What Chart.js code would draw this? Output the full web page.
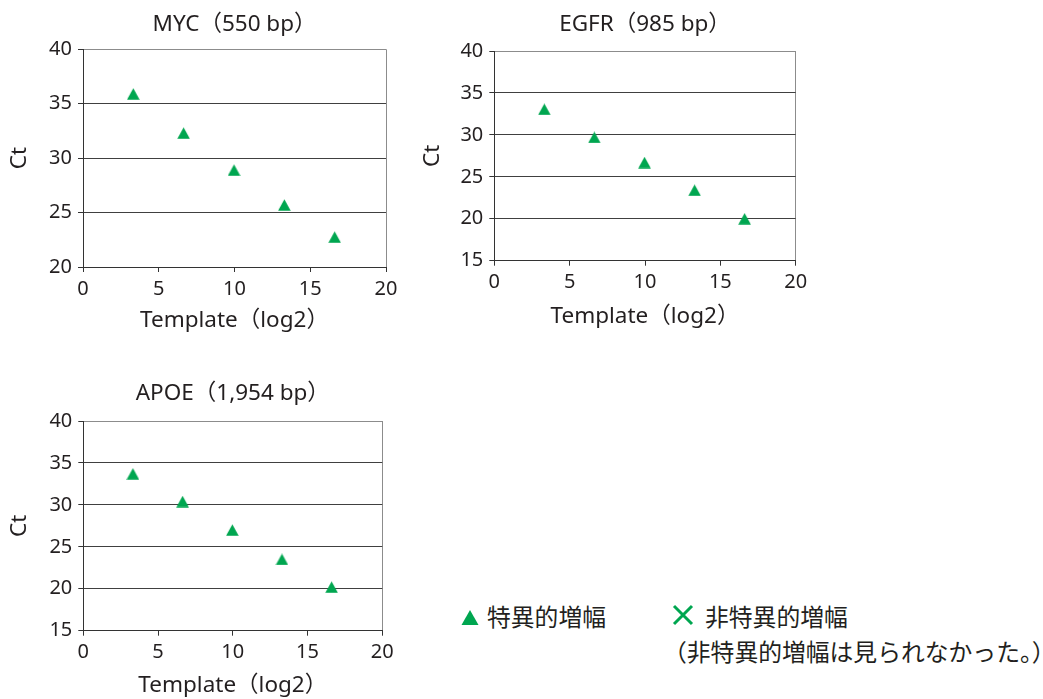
<!DOCTYPE html>
<html>
<head>
<meta charset="utf-8">
<script src="https://cdn.jsdelivr.net/npm/chart.js@4"></script>
<style>
  html, body { margin: 0; padding: 0; background: #ffffff; }
  body { width: 1043px; height: 699px; position: relative; overflow: hidden; }
  canvas { position: absolute; }
  .lg { position: absolute; font-family: 'Noto Sans CJK JP', 'Noto Sans', sans-serif; font-size: 23.8px; line-height: 24px; color: #231f20; white-space: nowrap; }
  svg { position: absolute; }
</style>
</head>
<body>
<canvas id="c1" width="410" height="345" style="left:0px;top:0px;"></canvas>
<canvas id="c2" width="420" height="345" style="left:410px;top:0px;"></canvas>
<canvas id="c3" width="410" height="334" style="left:0px;top:365px;"></canvas>

<svg width="18" height="16" style="left:461px;top:610px;"><polygon points="9,0 0.5,15 17.5,15" fill="#00a650"/></svg>
<div class="lg" style="left:487px;top:604px;">特異的増幅</div>
<svg width="22" height="22" style="left:672px;top:604px;"><path d="M2,2 L20,20 M20,2 L2,20" stroke="#00a650" stroke-width="3" fill="none"/></svg>
<div class="lg" style="left:705px;top:604px;">非特異的増幅</div>
<div class="lg" style="left:663px;top:639px;">（非特異的増幅は見られなかった。）</div>

<script>
// ---- data ----
const templateLog2 = [3.32, 6.64, 9.97, 13.29, 16.61];
const ctMYC  = [35.9, 32.3, 28.9, 25.7, 22.75];
const ctEGFR = [33.05, 29.7, 26.7, 23.4, 20.0];
const ctAPOE = [33.7, 30.4, 27.0, 23.5, 20.2];
const titleMYC  = 'MYC（550 bp）';
const titleEGFR = 'EGFR（985 bp）';
const titleAPOE = 'APOE（1,954 bp）';
const xTickValues = [0, 5, 10, 15, 20];
const yTicksMYC = [20, 25, 30, 35, 40];
const yTicksOther = [15, 20, 25, 30, 35, 40];
const xAxisLabel = 'Template（log2）';
const yAxisLabel = 'Ct';
const seriesName = '特異的増幅';

// ---- marker image (triangle centred in its box) ----
function triangleImage() {
  const c = document.createElement('canvas');
  c.width = 13; c.height = 12;
  const g = c.getContext('2d');
  g.fillStyle = '#00a650';
  g.beginPath();
  g.moveTo(6.5, 0.2);
  g.lineTo(0.2, 11.8);
  g.lineTo(12.8, 11.8);
  g.closePath();
  g.fill();
  return c;
}
const tri = triangleImage();

const FONT = "'Noto Sans', 'Noto Sans CJK JP', sans-serif";
const TEXT = '#231f20';

function makeChart(id, title, ys, yTicks, L) {
  const yMin = yTicks[0], yMax = yTicks[yTicks.length - 1];
  const xMax = xTickValues[xTickValues.length - 1];
  return new Chart(document.getElementById(id), {
    type: 'scatter',
    data: {
      datasets: [{
        label: seriesName,
        data: templateLog2.map((x, i) => ({ x: x, y: ys[i] })),
        pointStyle: tri,
        pointRadius: 6,
        showLine: false
      }]
    },
    options: {
      responsive: false,
      animation: false,
      events: [],
      layout: { padding: { left: 0, top: 0, right: L.padRight, bottom: 0 } },
      plugins: {
        legend: { display: false },
        tooltip: { enabled: false },
        title: {
          display: true,
          text: title,
          fullSize: false,
          color: TEXT,
          font: { family: FONT, size: 22.5, weight: 'normal', lineHeight: 1.2 },
          padding: { top: L.titleTop, bottom: L.titleBottom }
        }
      },
      scales: {
        x: {
          type: 'linear',
          min: 0, max: xMax,
          afterBuildTicks: s => { s.ticks = xTickValues.map(v => ({ value: v })); },
          afterFit: s => { s.height = L.xHeight; },
          border: { display: true, color: '#333333', width: 1 },
          grid: {
            drawOnChartArea: true,
            drawTicks: true,
            tickLength: 5,
            tickColor: '#333333',
            color: c => (c.tick && c.tick.value === xMax) ? '#8c8c8c' : 'rgba(0,0,0,0)'
          },
          ticks: { color: TEXT, padding: 5, font: { family: FONT, size: 20 } },
          title: {
            display: true, text: xAxisLabel, color: TEXT,
            font: { family: FONT, size: 22.5, lineHeight: 1.2 },
            padding: { top: 0, bottom: L.xTitleBottom }
          }
        },
        y: {
          type: 'linear',
          min: yMin, max: yMax,
          afterBuildTicks: s => { s.ticks = yTicks.map(v => ({ value: v })); },
          afterFit: s => { s.width = L.yWidth; },
          border: { display: true, color: '#333333', width: 1 },
          grid: {
            drawTicks: true,
            tickLength: 5,
            tickColor: '#333333',
            color: c => (c.tick && c.tick.value === yMax) ? '#8c8c8c' : '#404040'
          },
          ticks: { color: TEXT, padding: 6, font: { family: FONT, size: 20 } },
          title: {
            display: true, text: yAxisLabel, color: TEXT,
            font: { family: FONT, size: 22.5, lineHeight: 1.2 },
            padding: { top: L.yTitlePad, bottom: 0 }
          }
        }
      }
    }
  });
}

makeChart('c1', titleMYC, ctMYC, yTicksMYC,
  { padRight: 24, titleTop: 11.2, titleBottom: 11.1, xHeight: 78, xTitleBottom: 10.8, yWidth: 83, yTitlePad: 6.5 });
makeChart('c2', titleEGFR, ctEGFR, yTicksOther,
  { padRight: 34.3, titleTop: 10.8, titleBottom: 13.2, xHeight: 84.3, xTitleBottom: 15, yWidth: 84.3, yTitlePad: 9.2 });
makeChart('c3', titleAPOE, ctAPOE, yTicksOther,
  { padRight: 27.7, titleTop: 15.2, titleBottom: 13.8, xHeight: 68.3, xTitleBottom: 0, yWidth: 83.3, yTitlePad: 6.5 });
</script>
</body>
</html>
